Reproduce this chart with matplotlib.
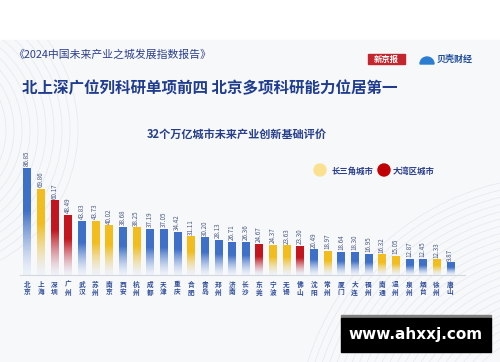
import matplotlib.pyplot as plt
import numpy as np
from matplotlib.patches import Rectangle, Circle, Arc, Wedge
from matplotlib.colors import to_rgb

plt.rcParams['font.family'] = ['Noto Sans CJK SC', 'DejaVu Sans']

# 数据
cities = ['北京', '上海', '深圳', '广州', '武汉', '苏州', '南京', '西安', '杭州', '成都',
          '天津', '重庆', '合肥', '青岛', '郑州', '济南', '长沙', '东莞', '宁波', '无锡',
          '佛山', '沈阳', '常州', '厦门', '大连', '福州', '南通', '温州', '泉州', '烟台',
          '徐州', '唐山']
scores = [86.85, 69.86, 60.17, 48.49, 43.83, 43.73, 40.02, 38.68, 38.25, 37.19,
          37.05, 34.42, 31.11, 30.20, 28.13, 26.71, 26.36, 24.67, 24.37, 23.63,
          23.30, 20.49, 18.97, 18.64, 18.30, 16.95, 16.32, 15.05, 12.87, 12.45,
          12.33, 9.87]
# 'o' 其他, 'y' 长三角, 'g' 大湾区
groups = ['o', 'y', 'g', 'g', 'o', 'y', 'y', 'o', 'y', 'o',
          'o', 'o', 'y', 'o', 'o', 'o', 'o', 'g', 'y', 'y',
          'g', 'o', 'y', 'o', 'o', 'o', 'y', 'y', 'o', 'o',
          'y', 'o']
legend_labels = ['长三角城市', '大湾区城市']

group_colors = {'o': '#3f70c8', 'y': '#f2bd1d', 'g': '#c3151d'}
fade = to_rgb('#eef2f9')

fig = plt.figure(figsize=(5, 3.62), dpi=100)

# 背景 (像素坐标)
bg = fig.add_axes([0, 0, 1, 1])
bg.set_xlim(0, 500)
bg.set_ylim(362, 0)
bg.axis('off')
band = Rectangle((0, 40), 500, 322, color='#f7f8fa', zorder=0)
bg.add_patch(band)
for r in np.arange(60, 150, 8):
    a = Arc((-70, 130), 2 * r, 2 * r, color='#e4e7ee', lw=0.5, zorder=1)
    bg.add_patch(a)
    a.set_clip_path(band)
for r in np.arange(110, 270, 7):
    a = Arc((560, 440), 2 * r, 2 * r, color='#e4e7ee', lw=0.5, zorder=1)
    bg.add_patch(a)
    a.set_clip_path(band)

# 标题
bg.text(13, 55, '《2024中国未来产业之城发展指数报告》', fontsize=7.8, color='#2b3f8c',
        va='center', ha='left')
bg.text(22, 88, '北上深广位列科研单项前四 北京多项科研能力位居第一', fontsize=11.2,
        fontweight='bold', color='#1f3c8f', va='center', ha='left')
bg.text(237, 134, '32个万亿城市未来产业创新基础评价', fontsize=8, fontweight='bold',
        color='#263f8a', va='center', ha='center')

# 图例
bg.add_patch(Circle((320, 170), 6, color='#fbe08f', zorder=2))
bg.text(332, 171, legend_labels[0], fontsize=6, fontweight='bold', color='#2b3f8c', va='center')
bg.add_patch(Circle((384, 170), 6, color='#c00000', zorder=2))
bg.text(393, 171, legend_labels[1], fontsize=6, fontweight='bold', color='#2b3f8c', va='center')

# 标志
bg.add_patch(Rectangle((368, 54), 37, 10, color='#c4262e', zorder=2))
bg.text(386.5, 59, '新京报', fontsize=6, fontweight='bold', color='white', ha='center', va='center')
bg.add_patch(Wedge((427, 64), 7, 180, 360, color='#2a7dd1', zorder=2))
bg.text(437, 59, '贝壳财经', fontsize=6.5, fontweight='bold', color='#1f4f9c', va='center')

# 水印
bg.add_patch(Rectangle((341, 315), 150, 3, color='#808080', zorder=3))
bg.add_patch(Rectangle((341, 318), 150, 34, color='black', zorder=3))
bg.text(416, 335, 'www.ahxxj.com', fontsize=11, fontweight='bold', color='white',
        family='DejaVu Sans', ha='center', va='center', zorder=4)

# 柱状图
ax = fig.add_axes([0.04, 0.2403, 0.89, 0.3453])
ax.patch.set_alpha(0)
x = np.arange(len(cities))
bars = ax.bar(x, scores, width=0.52, color='none')

t = np.linspace(0, 1, 120)
k = np.clip(t / 0.6, 0.03, 1) ** 1.4
for b, s, g in zip(bars, scores, groups):
    c = np.array(to_rgb(group_colors[g]))
    rgb = np.array(fade) + (c - np.array(fade)) * k[:, None]
    ax.imshow(rgb[:, None, :], extent=[b.get_x(), b.get_x() + b.get_width(), 0, s],
              origin='lower', aspect='auto', interpolation='bilinear', zorder=2)
    ax.text(b.get_x() + b.get_width() / 2, s + 1.8, f'{s:.2f}', rotation=90,
            ha='center', va='bottom', fontsize=4.5, color='#4b5b85')

ax.set_xlim(-0.513, 32.09)
ax.set_ylim(0, 101.6)
ax.set_xticks(x)
ax.set_xticklabels(['\n'.join(c) for c in cities], fontsize=4.8, fontweight='bold',
                   color='#2e4d9a', linespacing=1.15)
ax.tick_params(axis='x', length=0, pad=4)
ax.set_yticks([])
for sp in ['top', 'left', 'right']:
    ax.spines[sp].set_visible(False)
ax.spines['bottom'].set_color('#d3d7df')
ax.spines['bottom'].set_linewidth(0.8)

fig.savefig('out.png', dpi=100)
